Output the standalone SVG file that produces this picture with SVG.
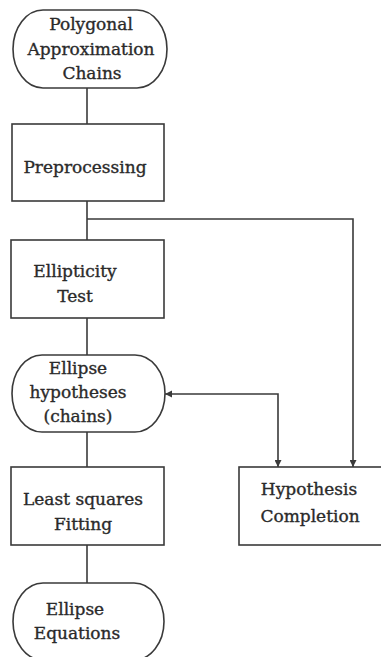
<svg xmlns="http://www.w3.org/2000/svg" width="381" height="657" viewBox="0 0 381 657">
<style>
.n{fill:#fff;stroke:#3a3a3a;stroke-width:1.6}
.c{fill:none;stroke:#3a3a3a;stroke-width:1.6}
text{font-family:"DejaVu Serif","Liberation Serif",serif;font-size:17px;fill:#2a2a2a;stroke:#2a2a2a;stroke-width:0.35;text-anchor:middle}
</style>
<defs>
<marker id="ah" viewBox="0 0 10 10" refX="10" refY="5" markerWidth="7" markerHeight="7" markerUnits="userSpaceOnUse" orient="auto">
<path d="M0,0 L10,5 L0,10 z" fill="#3a3a3a"/>
</marker>
</defs>
<rect width="381" height="657" fill="#fff"/>
<g id="connectors">
<line class="c" x1="87" y1="88" x2="87" y2="124"/>
<line class="c" x1="87" y1="201" x2="87" y2="240"/>
<polyline class="c" points="87,219 353,219 353,467" marker-end="url(#ah)"/>
<line class="c" x1="87" y1="318" x2="87" y2="355"/>
<line class="c" x1="87" y1="432" x2="87" y2="467"/>
<line class="c" x1="87" y1="545" x2="87" y2="583"/>
<polyline class="c" points="165,394 278,394 278,467" marker-end="url(#ah)"/>
<path d="M165,394 L172,390.5 L172,397.5 z" fill="#3a3a3a"/>
</g>
<g id="polygonal">
<rect class="n" x="13" y="10" width="154" height="78" rx="30" ry="39"/>
<text x="91" y="30">Polygonal</text>
<text x="91" y="55">Approximation</text>
<text x="92" y="79">Chains</text>
</g>
<g id="preprocessing">
<rect class="n" x="12" y="124" width="152" height="77"/>
<text x="85" y="173">Preprocessing</text>
</g>
<g id="ellipticity">
<rect class="n" x="11" y="240" width="153" height="78"/>
<text x="75" y="277">Ellipticity</text>
<text x="75" y="302">Test</text>
</g>
<g id="hypotheses">
<rect class="n" x="12" y="355" width="153" height="77" rx="30" ry="38.5"/>
<text x="78" y="374">Ellipse</text>
<text x="78" y="398">hypotheses</text>
<text x="78" y="422">(chains)</text>
</g>
<g id="leastsquares">
<rect class="n" x="11" y="467" width="153" height="78"/>
<text x="83" y="505">Least squares</text>
<text x="83" y="530">Fitting</text>
</g>
<g id="equations">
<rect class="n" x="13" y="583" width="151" height="77" rx="30" ry="38.5"/>
<text x="75" y="615">Ellipse</text>
<text x="77" y="639">Equations</text>
</g>
<g id="completion">
<rect class="n" x="239" y="467" width="150" height="78"/>
<text x="309" y="495">Hypothesis</text>
<text x="310" y="522">Completion</text>
</g>
</svg>
